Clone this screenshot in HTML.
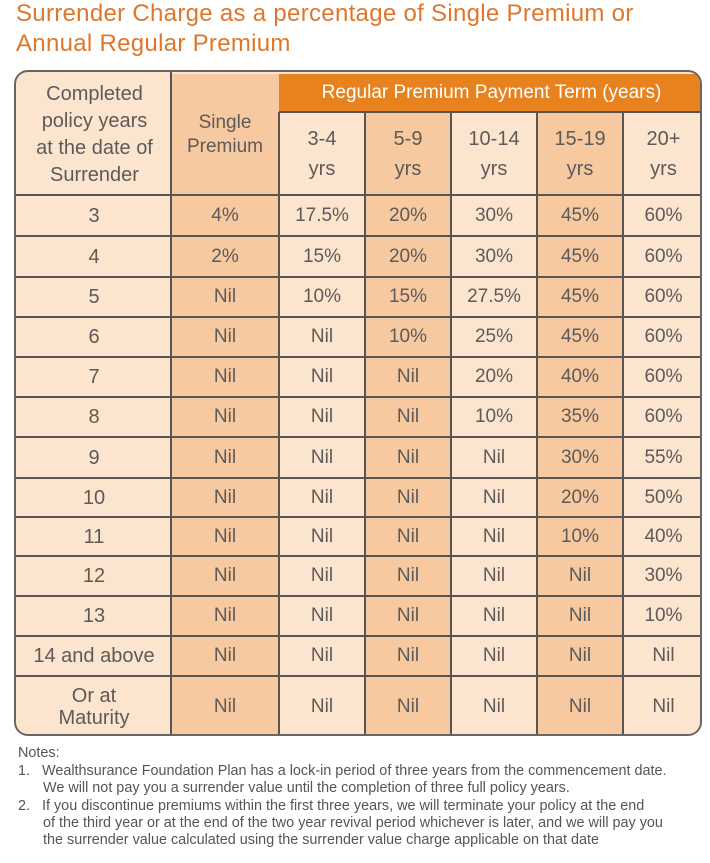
<!DOCTYPE html>
<html><head><meta charset="utf-8"><style>
body{margin:0;width:710px;height:863px;background:#fff;font-family:"Liberation Sans",sans-serif;position:relative;overflow:hidden}
.t{position:absolute;left:16px;color:#e0762a;font-size:24px;letter-spacing:0.3px}
.c{position:absolute;display:flex;align-items:center;justify-content:center;text-align:center;color:#5e5a58;font-size:19px;box-sizing:border-box}
.l{background:#fbe5cf}.d{background:#f6c9a0}
.vl{position:absolute;width:2px;background:#5a5552}
.hl{position:absolute;height:2px;background:#5a5552}
.n{position:absolute;left:18px;font-size:14.4px;color:#555;line-height:17px;letter-spacing:0}
</style></head><body>
<div class="t" style="top:0px">Surrender Charge as a percentage of Single Premium or</div>
<div class="t" style="top:30px">Annual Regular Premium</div>
<div id="tb" style="position:absolute;left:14px;top:70px;width:688px;height:666px;border:2px solid #6a6560;border-radius:14px;overflow:hidden;box-sizing:border-box;background:#fbe5cf"></div>
<script>
const cols=[15,169,277,363,449,535,621,702];
const rows=[193,234,275,315,355,395,435,476,515,554,594,634,674,735];
const dark=[false,true,false,true,false,true,false];
const data=[["3","4%","17.5%","20%","30%","45%","60%"],["4","2%","15%","20%","30%","45%","60%"],["5","Nil","10%","15%","27.5%","45%","60%"],["6","Nil","Nil","10%","25%","45%","60%"],["7","Nil","Nil","Nil","20%","40%","60%"],["8","Nil","Nil","Nil","10%","35%","60%"],["9","Nil","Nil","Nil","Nil","30%","55%"],["10","Nil","Nil","Nil","Nil","20%","50%"],["11","Nil","Nil","Nil","Nil","10%","40%"],["12","Nil","Nil","Nil","Nil","Nil","30%"],["13","Nil","Nil","Nil","Nil","Nil","10%"],["14 and above","Nil","Nil","Nil","Nil","Nil","Nil"],["Or at<br>Maturity","Nil","Nil","Nil","Nil","Nil","Nil"]];
let h='';
const tb=document.getElementById('tb');
function cell(x,y,w,hh,cls,txt,st){h+=`<div class="c ${cls}" style="left:${x-14}px;top:${y-70}px;width:${w}px;height:${hh}px;${st||''}">${txt}</div>`;}
cell(16,72,153,121,'l','Completed<br>policy years<br>at the date of<br>Surrender','line-height:27px;font-size:20px');
cell(169,72,108,121,'d','Single<br>Premium','line-height:24px;font-size:19px');
cell(277,72,425,38,'','Regular Premium Payment Term (years)','background:#e8821e;color:#fff;font-size:19px');
const hd=['3-4','5-9','10-14','15-19','20+'];
for(let i=0;i<5;i++)cell(cols[i+2],110,cols[i+3]-cols[i+2],83,dark[i+2]?'d':'l',hd[i]+'<br>yrs','line-height:30px;font-size:20px');
for(let r=0;r<13;r++)for(let c=0;c<7;c++){
 cell(cols[c],rows[r],cols[c+1]-cols[c],rows[r+1]-rows[r],dark[c]?'d':'l',data[r][c],c==0?'font-size:20px;line-height:22px':'');
}
for(let i=1;i<7;i++){h+=`<div class="vl" style="left:${cols[i]-15}px;top:${(i<2?0:40)}px;height:700px"></div>`;}
h+=`<div class="hl" style="left:${277-14}px;top:${110-71}px;width:440px"></div>`;
for(let r=0;r<13;r++)h+=`<div class="hl" style="left:0;top:${rows[r]-71}px;width:700px"></div>`;
tb.innerHTML=h;
</script>
<div class="n" style="top:745px">Notes:</div>
<div class="n" style="top:763px">1.&nbsp;&nbsp;&nbsp;Wealthsurance Foundation Plan has a lock-in period of three years from the commencement date.</div>
<div class="n" style="top:780px;left:43px">We will not pay you a surrender value until the completion of three full policy years.</div>
<div class="n" style="top:798px">2.&nbsp;&nbsp;&nbsp;If you discontinue premiums within the first three years, we will terminate your policy at the end</div>
<div class="n" style="top:815px;left:43px">of the third year or at the end of the two year revival period whichever is later, and we will pay you</div>
<div class="n" style="top:832px;left:43px">the surrender value calculated using the surrender value charge applicable on that date</div>
</body></html>
